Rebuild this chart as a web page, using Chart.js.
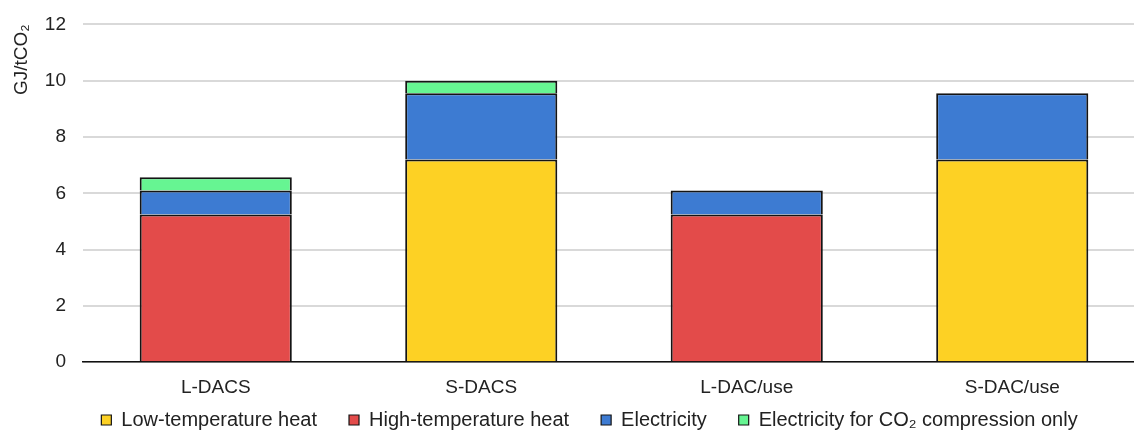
<!DOCTYPE html>
<html>
<head>
<meta charset="utf-8">
<script src="https://cdn.jsdelivr.net/npm/chart.js@4.4.1/dist/chart.umd.min.js"></script>
<style>
  html, body { margin: 0; padding: 0; background: #fff; overflow: hidden; }
  #wrap { position: relative; width: 1145px; height: 434px; margin-top: -4px; }
</style>
</head>
<body>
<div id="wrap"><canvas id="chart"></canvas></div>
<script>
// Energy requirement per tonne of CO2 captured, by DAC configuration
const categories = ['L-DACS', 'S-DACS', 'L-DAC/use', 'S-DAC/use'];
const lowTemperatureHeat = [null, 7.2, null, 7.2];
const highTemperatureHeat = [5.25, null, 5.25, null];
const electricity = [0.85, 2.35, 0.85, 2.35];
const compressionElectricity = [0.47, 0.45, null, null];
const yTicks = [0, 2, 4, 6, 8, 10, 12];

const FONT = "'Liberation Sans', Arial, sans-serif";
const edge = '#141414';

const series = [
  { label: 'Low-temperature heat', data: lowTemperatureHeat, color: '#FDD124' },
  { label: 'High-temperature heat', data: highTemperatureHeat, color: '#E34B4A' },
  { label: 'Electricity', data: electricity, color: '#3D7BD2' },
  { label: 'Electricity for CO₂ compression only', data: compressionElectricity, color: '#66F592' }
];

// Legend sits in a compact strip at the bottom while keeping wide gaps between items
const LEGEND_HEIGHT = 17;
const LEGEND_PAD = 32;
const LEGEND_ROW_Y = 414;
const LEGEND_SHIFT_X = 17;
const compactLegend = {
  id: 'compactLegend',
  afterInit(chart) {
    const legend = chart.legend;
    const fit = legend.fit;
    legend.fit = function () {
      fit.call(this);
      this.height = LEGEND_HEIGHT;
    };
    legend.draw = function () {
      if (!this.options.display) return;
      const ctx = this.ctx;
      ctx.save();
      ctx.translate(LEGEND_SHIFT_X, LEGEND_ROW_Y - (this.top + LEGEND_PAD));
      this._draw();
      ctx.restore();
    };
  }
};

new Chart(document.getElementById('chart'), {
  type: 'bar',
  data: {
    labels: categories,
    datasets: series.map(s => ({
      label: s.label,
      data: s.data,
      backgroundColor: s.color,
      borderColor: edge,
      borderWidth: 2,
      borderSkipped: 'start',
      categoryPercentage: 0.573,
      barPercentage: 1
    }))
  },
  plugins: [compactLegend],
  options: {
    responsive: true,
    maintainAspectRatio: false,
    animation: false,
    layout: { padding: { top: 2, right: 0, bottom: 0, left: 0 } },
    plugins: {
      tooltip: { enabled: false },
      legend: {
        position: 'bottom',
        labels: {
          font: { family: FONT, size: 20 },
          color: '#222',
          boxWidth: 10,
          boxHeight: 10,
          padding: LEGEND_PAD,
          generateLabels(chart) {
            return chart.data.datasets.map((d, i) => ({
              text: d.label,
              fillStyle: d.backgroundColor,
              strokeStyle: edge,
              lineWidth: 1.2,
              fontColor: '#222',
              hidden: false,
              datasetIndex: i
            }));
          }
        }
      }
    },
    scales: {
      x: {
        stacked: true,
        grid: { display: false, drawTicks: false },
        border: { display: true, color: '#111', width: 1.5 },
        ticks: { font: { family: FONT, size: 19 }, color: '#222', padding: 14 }
      },
      y: {
        stacked: true,
        min: 0,
        max: 12,
        afterBuildTicks(axis) { axis.ticks = yTicks.map(v => ({ value: v })); },
        afterFit(axis) { axis.width = 83; },
        grid: { color: '#d9d9d9', lineWidth: 2, drawTicks: false },
        border: { display: false },
        ticks: { font: { family: FONT, size: 19 }, color: '#222', padding: 17 },
        title: {
          display: true,
          text: 'GJ/tCO₂',
          align: 'end',
          font: { family: FONT, size: 19 },
          color: '#222',
          padding: { top: 10, bottom: 0 }
        }
      }
    }
  }
});
</script>
</body>
</html>
